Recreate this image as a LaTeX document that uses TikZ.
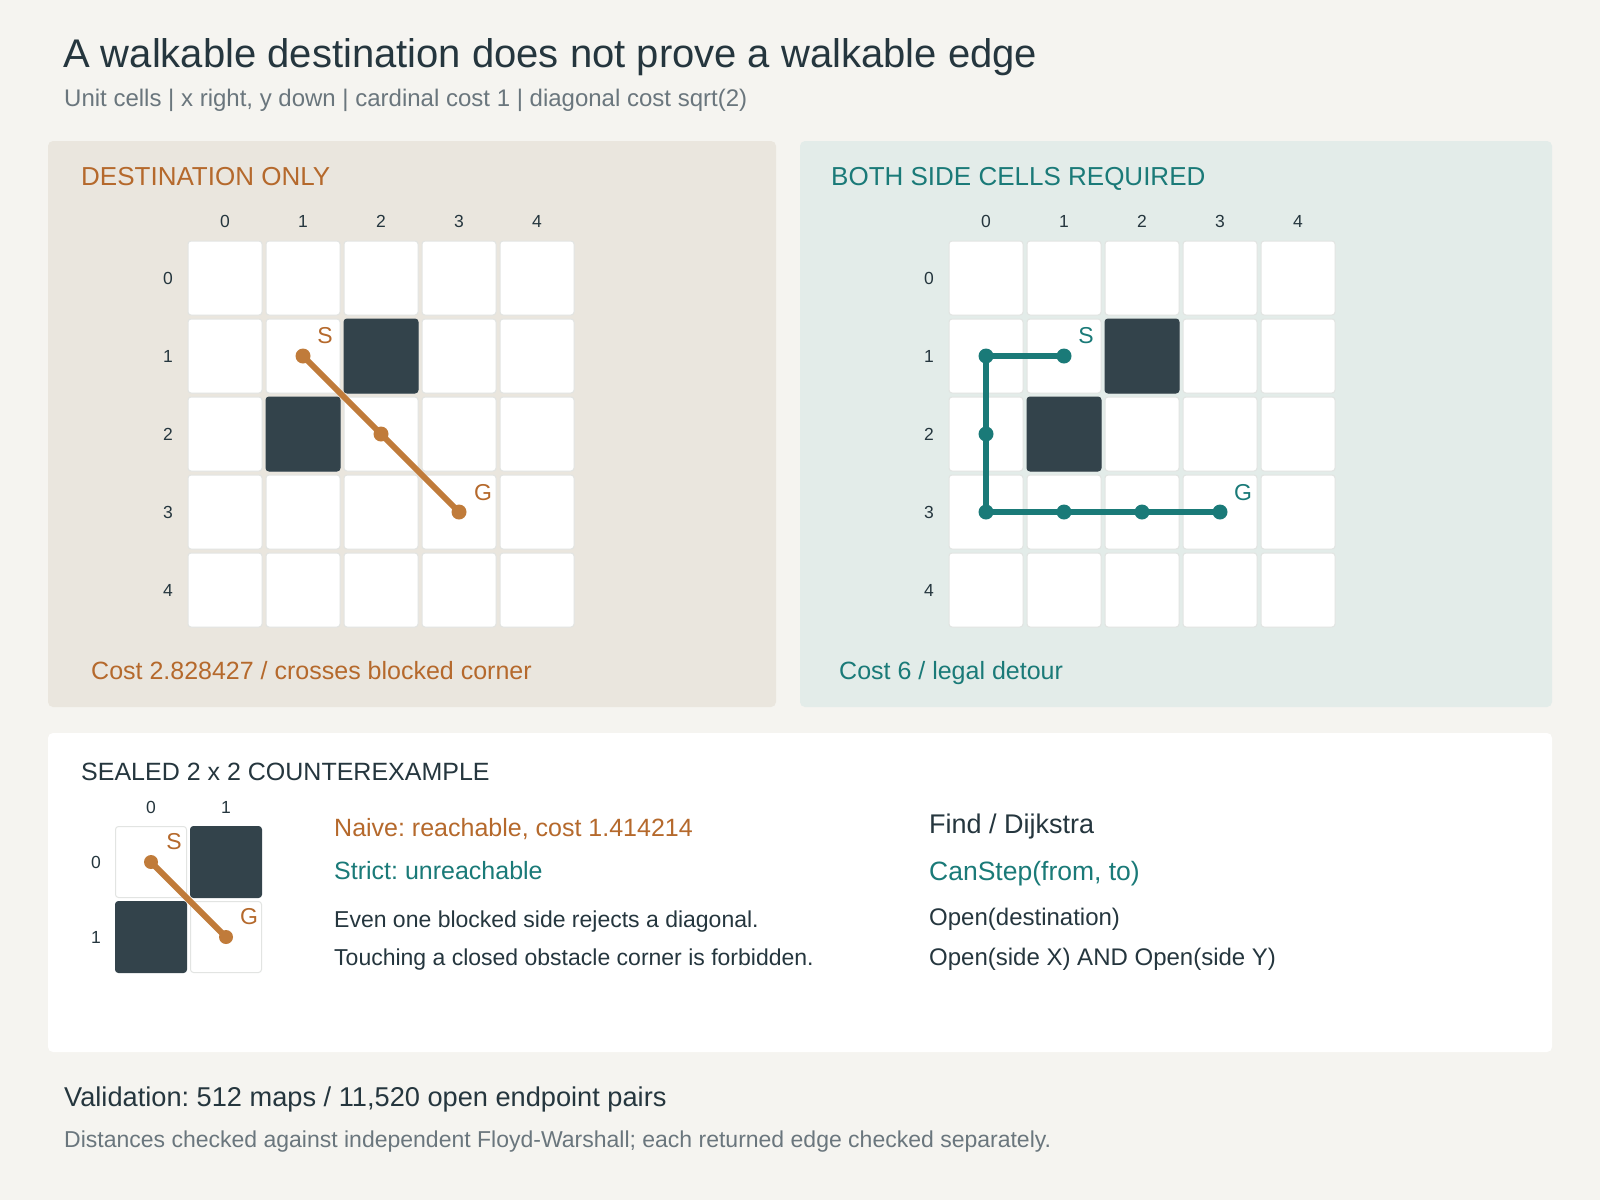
\documentclass[tikz,border=0pt]{standalone}
\usepackage{fontspec}
\setmainfont{Liberation Sans}
\frenchspacing
\definecolor{pagebg}{HTML}{F5F4F0}
\definecolor{sandbg}{HTML}{EAE6DE}
\definecolor{mintbg}{HTML}{E3ECE9}
\definecolor{ink}{HTML}{25363E}
\definecolor{muted}{HTML}{6A767D}
\definecolor{rust}{HTML}{B5692C}
\definecolor{rustline}{HTML}{C07B3A}
\definecolor{tealc}{HTML}{1A7A78}
\definecolor{wallc}{HTML}{33434B}
\definecolor{cellline}{HTML}{E2E4E2}
\newcommand\pxsize[1]{\fontsize{#1}{#1}\selectfont}

\begin{document}
\begin{tikzpicture}[
    x=1pt, y=-1pt,
    panel/.style={rounded corners=5pt},
    cell/.style={rectangle, rounded corners=3pt, minimum size=74pt, inner sep=0pt, fill=white, draw=cellline, line width=1pt},
    smallcell/.style={cell, minimum size=71pt},
    wall/.style={cell, fill=wallc, draw=wallc},
    smallwall/.style={wall, minimum size=71pt},
    txt/.style={anchor=base west, inner sep=0pt},
    axis/.style={inner sep=0pt, text=ink, font=\pxsize{17.5}},
    tag/.style={inner sep=0pt, font=\pxsize{23}},
    naive/.style={line width=6pt, draw=rustline, line cap=round},
    strict/.style={line width=6pt, draw=tealc, line cap=round, line join=round}
]
% Page
\useasboundingbox (0,0) rectangle (1600,1200);
\fill[pagebg] (0,0) rectangle (1600,1200);

% Title
\node[txt, text=ink, font=\pxsize{40}] (title) at (63,67) {A walkable destination does not prove a walkable edge};
\node[txt, text=muted, font=\pxsize{24}] (subtitle) at (64,106) {Unit cells \textbar{} x right, y down \textbar{} cardinal cost 1 \textbar{} diagonal cost sqrt(2)};

% Panels
\fill[sandbg, panel] (48,141) rectangle (776,707);
\fill[mintbg, panel] (800,141) rectangle (1552,707);
\fill[white, panel] (48,733) rectangle (1552,1052);

% Left panel: destination only
\node[txt, text=rust, font=\pxsize{26}] (lhead) at (81,185) {DESTINATION ONLY};
\foreach \i in {0,...,4} {
    \node[axis] (a-c\i) at ({225+78*\i},221) {\i};
    \node[axis] (a-r\i) at (168,{278+78*\i}) {\i};
    \foreach \j in {0,...,4}
        \node[cell] (a-\i-\j) at ({225+78*\i},{278+78*\j}) {};
}
\node[wall] (a-w1) at (a-2-1) {};
\node[wall] (a-w2) at (a-1-2) {};
\draw[naive] (a-1-1.center) -- (a-2-2.center) -- (a-3-3.center);
\foreach \c in {a-1-1,a-2-2,a-3-3}
    \fill[rustline] (\c) circle (7.5pt);
\node[tag, text=rust] (a-s) at (325,336) {S};
\node[tag, text=rust] (a-g) at (483,493) {G};
\node[txt, text=rust, font=\pxsize{25}] (lcost) at (91,679) {Cost 2.828427 / crosses blocked corner};

% Right panel: both side cells required
\node[txt, text=tealc, font=\pxsize{26}] (rhead) at (831,185) {BOTH SIDE CELLS REQUIRED};
\foreach \i in {0,...,4} {
    \node[axis] (b-c\i) at ({986+78*\i},221) {\i};
    \node[axis] (b-r\i) at (929,{278+78*\i}) {\i};
    \foreach \j in {0,...,4}
        \node[cell] (b-\i-\j) at ({986+78*\i},{278+78*\j}) {};
}
\node[wall] (b-w1) at (b-2-1) {};
\node[wall] (b-w2) at (b-1-2) {};
\draw[strict] (b-1-1.center) -- (b-0-1.center) -- (b-0-2.center) -- (b-0-3.center)
    -- (b-1-3.center) -- (b-2-3.center) -- (b-3-3.center);
\foreach \c in {b-1-1,b-0-1,b-0-2,b-0-3,b-1-3,b-2-3,b-3-3}
    \fill[tealc] (\c) circle (7.5pt);
\node[tag, text=tealc] (b-s) at (1086,336) {S};
\node[tag, text=tealc] (b-g) at (1243,493) {G};
\node[txt, text=tealc, font=\pxsize{25}] (rcost) at (839,679) {Cost 6 / legal detour};

% Bottom panel: sealed counterexample
\node[txt, text=ink, font=\pxsize{25}] (chead) at (81,780) {SEALED 2 x 2 COUNTEREXAMPLE};
\node[axis] (c-c0) at (151,807) {0};
\node[axis] (c-c1) at (226,807) {1};
\node[axis] (c-r0) at (96,862) {0};
\node[axis] (c-r1) at (96,937) {1};
\node[smallcell] (c-0-0) at (151,862) {};
\node[smallwall] (c-1-0) at (226,862) {};
\node[smallwall] (c-0-1) at (151,937) {};
\node[smallcell] (c-1-1) at (226,937) {};
\draw[naive] (c-0-0.center) -- (c-1-1.center);
\fill[rustline] (c-0-0) circle (7pt);
\fill[rustline] (c-1-1) circle (7pt);
\node[tag, text=rust] (c-s) at (174,842) {S};
\node[tag, text=rust] (c-g) at (249,917) {G};

\node[txt, text=rust, font=\pxsize{25}] (naivetxt) at (334,836) {Naive: reachable, cost 1.414214};
\node[txt, text=tealc, font=\pxsize{25}] (stricttxt) at (334,879) {Strict: unreachable};
\node[txt, text=ink, font=\pxsize{23}] (note1) at (334,927) {Even one blocked side rejects a diagonal.};
\node[txt, text=ink, font=\pxsize{23}] (note2) at (334,965) {Touching a closed obstacle corner is forbidden.};

\node[txt, text=ink, font=\pxsize{27}] (find) at (929,833) {Find / Dijkstra};
\node[txt, text=tealc, font=\pxsize{26.5}] (canstep) at (929,880) {CanStep(from, to)};
\node[txt, text=ink, font=\pxsize{24}] (rule1) at (929,925) {Open(destination)};
\node[txt, text=ink, font=\pxsize{24}] (rule2) at (929,965) {Open(side X) AND Open(side Y)};

% Footer
\node[txt, text=ink, font=\pxsize{27.2}] (valid) at (64,1106) {Validation: 512 maps / 11,520 open endpoint pairs};
\node[txt, text=muted, font=\pxsize{23}] (checks) at (64,1147) {Distances checked against independent Floyd-Warshall; each returned edge checked separately.};
\end{tikzpicture}
\end{document}
